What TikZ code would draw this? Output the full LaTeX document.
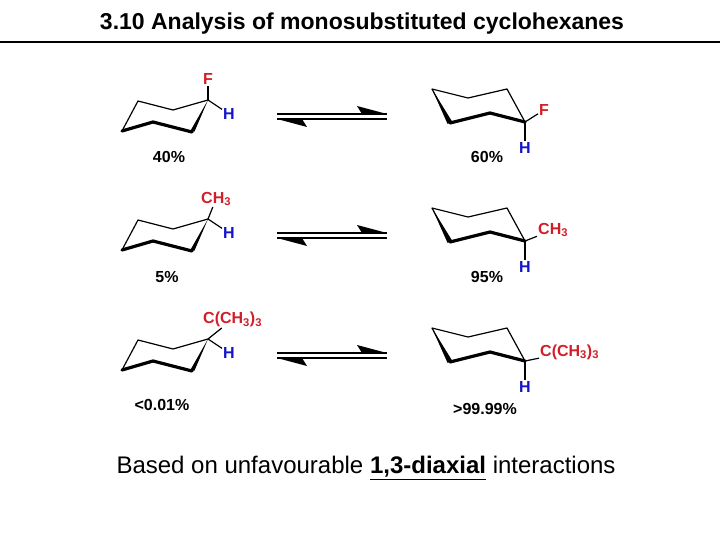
\documentclass[tikz,border=0pt]{standalone}
\usepackage{fontspec}
\setmainfont{Liberation Sans}
\usetikzlibrary{calc}
\definecolor{fred}{RGB}{210,30,40}
\definecolor{hblue}{RGB}{20,20,200}
\begin{document}
\begin{tikzpicture}[x=1pt,y=-1pt,
  bond/.style={line width=1.2pt,line join=round},
  bold/.style={line width=3.2pt,line cap=round,line join=round},
  sub/.style={font=\bfseries\fontsize{16}{16}\selectfont,text=fred,inner sep=1pt},
  hyd/.style={font=\bfseries\fontsize{16}{16}\selectfont,text=hblue,inner sep=1pt},
  pct/.style={font=\bfseries\fontsize{16}{16}\selectfont,inner sep=0pt},
  eq/.style={line width=1.2pt}]
\useasboundingbox (0,0) rectangle (720,540);
\node[font=\bfseries\fontsize{23}{23}\selectfont] (title) at (362,24) {3.10 Analysis of monosubstituted cyclohexanes};
\draw[line width=2pt] (0,42) -- (720,42);
\foreach \r/\dy in {1/0,2/119,3/239}{
 \begin{scope}[yshift=-\dy]
 \coordinate (la\r) at (122,131); \coordinate (lb\r) at (138,101);
 \coordinate (lc\r) at (173,110); \coordinate (ld\r) at (208,100);
 \coordinate (le\r) at (192,132); \coordinate (lf\r) at (153,122);
 \draw[bond] (la\r) -- (lb\r) -- (lc\r) -- (ld\r);
 \draw[bold] (la\r) -- (lf\r) -- (le\r);
 \fill (ld\r) -- ($(le\r)+(-2.5,0.5)$) -- ($(le\r)+(2.5,-0.5)$) -- cycle;
 \coordinate (ra\r) at (432,89); \coordinate (rb\r) at (468,98);
 \coordinate (rc\r) at (507,89); \coordinate (rd\r) at (525,122);
 \coordinate (re\r) at (490,113); \coordinate (rf\r) at (450,123);
 \draw[bond] (rf\r) -- (ra\r) -- (rb\r) -- (rc\r) -- (rd\r);
 \draw[bold] (rf\r) -- (re\r) -- (rd\r);
 \fill (ra\r) -- ($(rf\r)+(-2.5,0.8)$) -- ($(rf\r)+(2.5,-0.8)$) -- cycle;
 \coordinate (a1\r) at (277,114); \coordinate (a2\r) at (387,114);
 \coordinate (b1\r) at (277,119); \coordinate (b2\r) at (387,119);
 \draw[eq] (a1\r) -- (a2\r); \draw[eq] (b1\r) -- (b2\r);
 \fill (a2\r) -- (357,106) -- (362,114) -- cycle;
 \fill (b1\r) -- (307,127) -- (302,119) -- cycle;
 \end{scope}
}
\node[sub,anchor=south] (lx1) at (208,86) {F};
\node[sub,anchor=south west] (lx2) at (200,207) {CH$_\mathbf{3}$};
\node[sub,anchor=south west] (lx3) at (202,328) {C(CH$_\mathbf{3}$)$_\mathbf{3}$};
\foreach \r/\dy in {1/0,2/119,3/239}{
 \node[hyd] (lh\r) at (229,114+\dy) {H};
 \node[hyd] (rh\r) at (525,148+\dy) {H};
 \draw[bond] (ld\r) -- (lh\r);
 \draw[bond] (ld\r) -- (lx\r);
 \draw[bond] (rd\r) -- (rh\r);
}
\node[sub,anchor=west] (rx1) at (538,110) {F};
\node[sub,anchor=west] (rx2) at (537,230) {CH$_\mathbf{3}$};
\node[sub,anchor=west] (rx3) at (539,352) {C(CH$_\mathbf{3}$)$_\mathbf{3}$};
\foreach \r in {1,2,3}{\draw[bond] (rd\r) -- (rx\r);}
\node[pct] (lp1) at (169,157) {40\%};
\node[pct] (rp1) at (487,157) {60\%};
\node[pct] (lp2) at (167,277) {5\%};
\node[pct] (rp2) at (487,277) {95\%};
\node[pct] (lp3) at (162,405) {<0.01\%};
\node[pct] (rp3) at (485,409) {>99.99\%};
\node[font=\fontsize{24}{24}\selectfont] (bottom) at (366,468) {Based on unfavourable \textbf{\underline{1,3-diaxial}} interactions};
\end{tikzpicture}
\end{document}
